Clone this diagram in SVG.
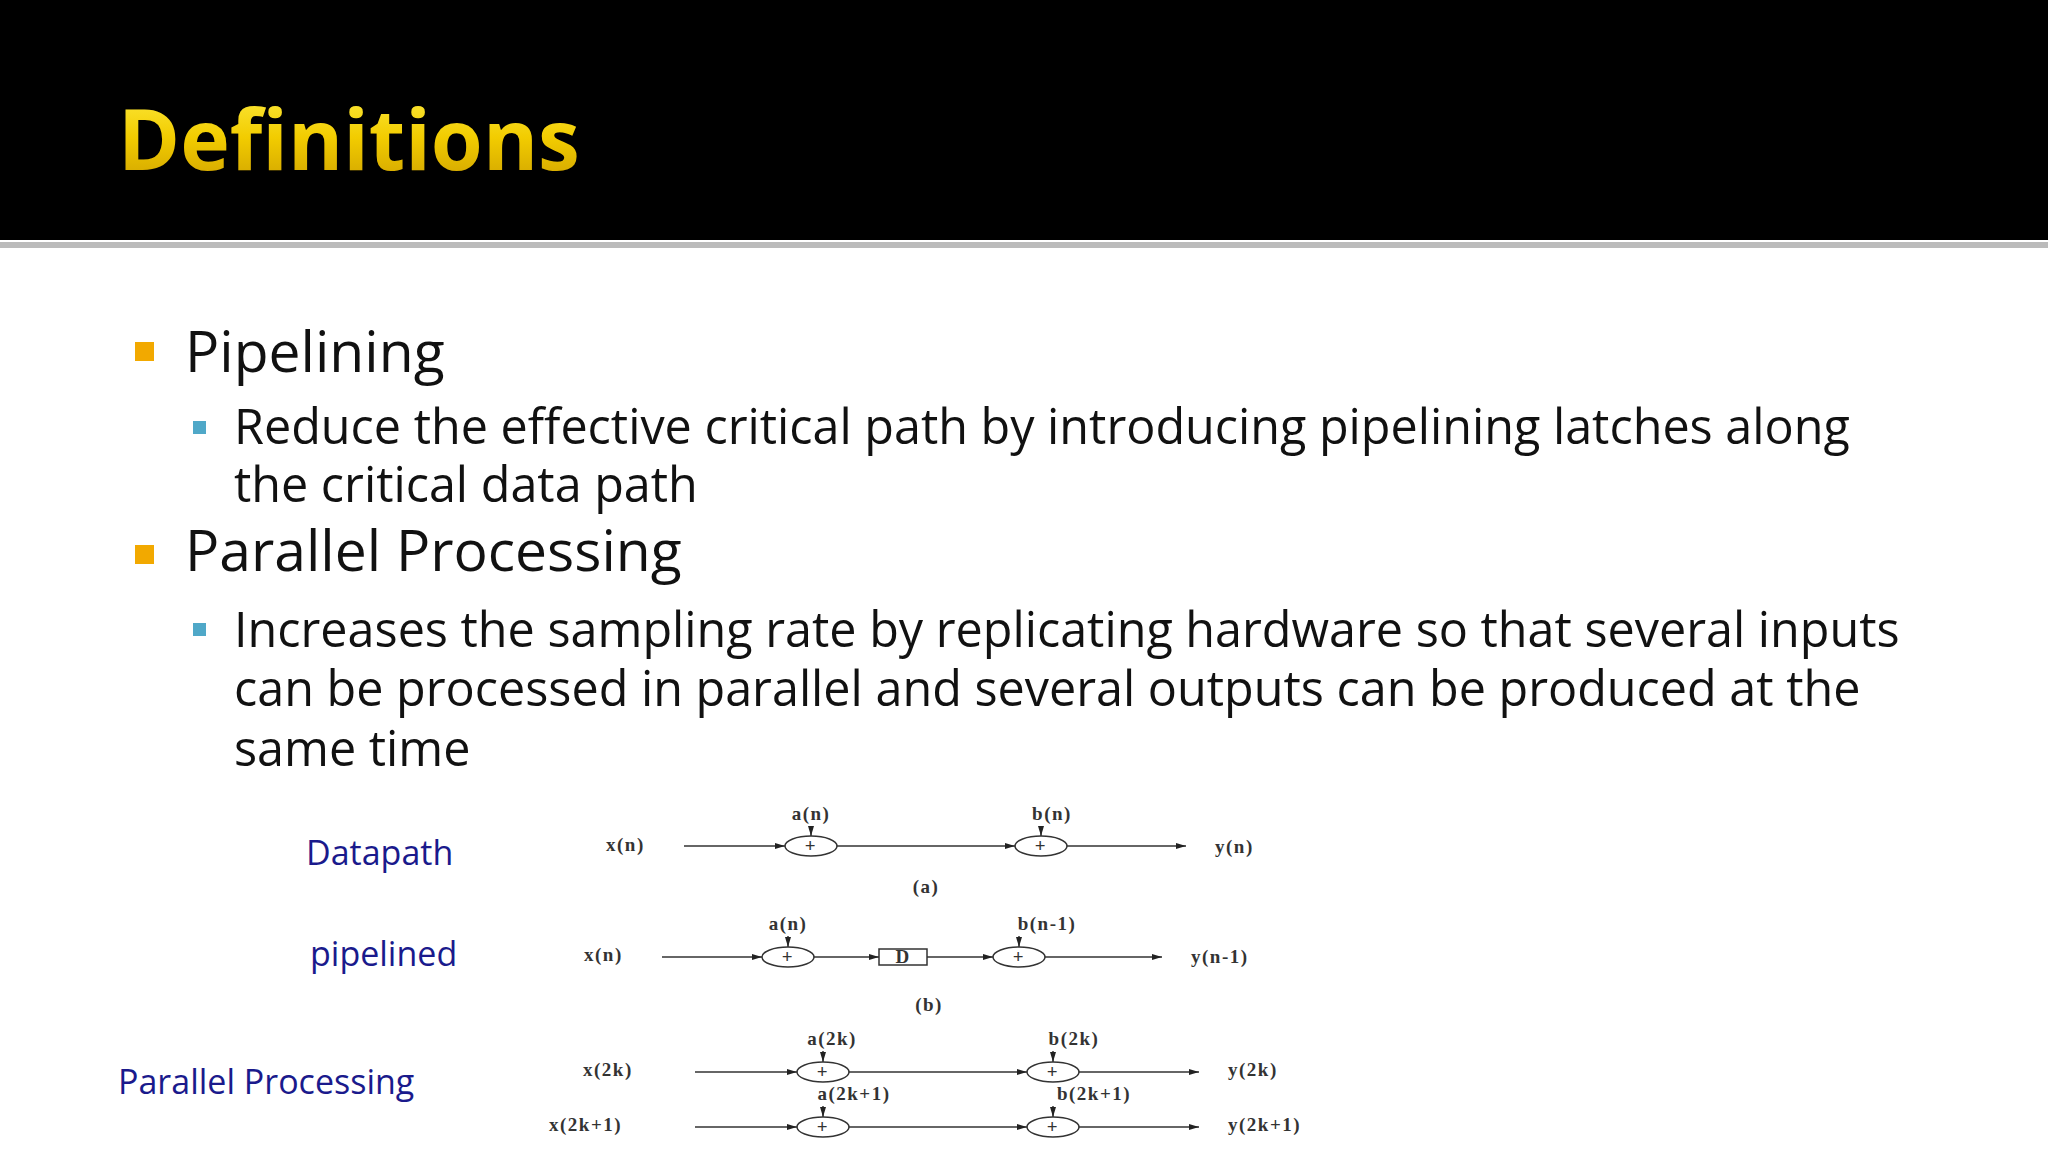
<svg xmlns="http://www.w3.org/2000/svg" width="2048" height="1152" viewBox="0 0 2048 1152">
<defs>
<linearGradient id="tg" x1="0" y1="0" x2="0" y2="1"><stop offset="0" stop-color="#FFF04A"/><stop offset="0.5" stop-color="#F2CC00"/><stop offset="1" stop-color="#C99A00"/></linearGradient>
<marker id="ar" viewBox="0 0 10 6" refX="10" refY="3" markerWidth="10" markerHeight="6" markerUnits="userSpaceOnUse" orient="auto"><path d="M0,0 L10,3 L0,6 z" fill="#222"/></marker>
</defs>
<style>
.h{font-family:"Open Sans","Lato",sans-serif}
.b1{font-family:"Open Sans","Lato",sans-serif;font-size:57px;fill:#111}
.b2{font-family:"Open Sans","Lato",sans-serif;font-size:48.5px;fill:#111}
.lb{font-family:"Open Sans","Lato",sans-serif;font-size:34px;fill:#1a1a8c}
.d{font-family:"Liberation Serif",serif;font-weight:bold;font-size:19px;letter-spacing:1.5px;fill:#333}
.ln{stroke:#333;stroke-width:1.5;fill:none}
.ad{stroke:#333;stroke-width:1.5;fill:#fff}
</style>
<rect width="2048" height="1152" fill="#fff"/>
<rect width="2048" height="240" fill="#000"/>
<rect y="242" width="2048" height="6" fill="#bbb"/>
<text class="h" x="118" y="170" font-size="84" font-weight="bold" fill="url(#tg)">Definitions</text>
<rect x="135" y="342" width="19" height="19" fill="#F2A900"/>
<text class="b1" x="185" y="372">Pipelining</text>
<rect x="193" y="421" width="13" height="13" fill="#4FA8C8"/>
<text class="b2" x="234" y="444">Reduce the effective critical path by introducing pipelining latches along</text>
<text class="b2" x="234" y="502">the critical data path</text>
<rect x="135" y="545" width="19" height="19" fill="#F2A900"/>
<text class="b1" x="185" y="571">Parallel Processing</text>
<rect x="193" y="623" width="13" height="13" fill="#4FA8C8"/>
<text class="b2" x="234" y="647">Increases the sampling rate by replicating hardware so that several inputs</text>
<text class="b2" x="234" y="706">can be processed in parallel and several outputs can be produced at the</text>
<text class="b2" x="234" y="766">same time</text>
<text class="lb" x="306" y="865">Datapath</text>
<text class="lb" x="310" y="966">pipelined</text>
<text class="lb" x="118" y="1094">Parallel Processing</text>
<g id="connectors">
<line class="ln" x1="684" y1="846" x2="785" y2="846" marker-end="url(#ar)"/>
<line class="ln" x1="837" y1="846" x2="1015" y2="846" marker-end="url(#ar)"/>
<line class="ln" x1="1067" y1="846" x2="1186" y2="846" marker-end="url(#ar)"/>
<line class="ln" x1="811" y1="827" x2="811" y2="836" marker-end="url(#ar)"/>
<line class="ln" x1="1041" y1="827" x2="1041" y2="836" marker-end="url(#ar)"/>
<line class="ln" x1="662" y1="957" x2="762" y2="957" marker-end="url(#ar)"/>
<line class="ln" x1="814" y1="957" x2="879" y2="957" marker-end="url(#ar)"/>
<line class="ln" x1="927" y1="957" x2="993" y2="957" marker-end="url(#ar)"/>
<line class="ln" x1="1045" y1="957" x2="1162" y2="957" marker-end="url(#ar)"/>
<line class="ln" x1="788" y1="936" x2="788" y2="947" marker-end="url(#ar)"/>
<line class="ln" x1="1019" y1="936" x2="1019" y2="947" marker-end="url(#ar)"/>
<line class="ln" x1="695" y1="1072" x2="797" y2="1072" marker-end="url(#ar)"/>
<line class="ln" x1="849" y1="1072" x2="1027" y2="1072" marker-end="url(#ar)"/>
<line class="ln" x1="1079" y1="1072" x2="1199" y2="1072" marker-end="url(#ar)"/>
<line class="ln" x1="823" y1="1051" x2="823" y2="1062" marker-end="url(#ar)"/>
<line class="ln" x1="1053" y1="1051" x2="1053" y2="1062" marker-end="url(#ar)"/>
<line class="ln" x1="695" y1="1127" x2="797" y2="1127" marker-end="url(#ar)"/>
<line class="ln" x1="849" y1="1127" x2="1027" y2="1127" marker-end="url(#ar)"/>
<line class="ln" x1="1079" y1="1127" x2="1199" y2="1127" marker-end="url(#ar)"/>
<line class="ln" x1="823" y1="1106" x2="823" y2="1117" marker-end="url(#ar)"/>
<line class="ln" x1="1053" y1="1106" x2="1053" y2="1117" marker-end="url(#ar)"/>
</g>
<g id="rowa">
<ellipse class="ad" cx="811" cy="846" rx="26" ry="10"/><text class="d" x="811" y="852" text-anchor="middle">+</text>
<ellipse class="ad" cx="1041" cy="846" rx="26" ry="10"/><text class="d" x="1041" y="852" text-anchor="middle">+</text>
<text class="d" x="606" y="851">x(n)</text><text class="d" x="1215" y="853">y(n)</text>
<text class="d" x="811" y="820" text-anchor="middle">a(n)</text><text class="d" x="1052" y="820" text-anchor="middle">b(n)</text>
<text class="d" x="926" y="893" text-anchor="middle">(a)</text>
</g>
<g id="rowb">
<ellipse class="ad" cx="788" cy="957" rx="26" ry="10"/><text class="d" x="788" y="963" text-anchor="middle">+</text>
<rect class="ad" x="879" y="949" width="48" height="16"/><text class="d" x="903" y="963" text-anchor="middle">D</text>
<ellipse class="ad" cx="1019" cy="957" rx="26" ry="10"/><text class="d" x="1019" y="963" text-anchor="middle">+</text>
<text class="d" x="584" y="961">x(n)</text><text class="d" x="1191" y="963">y(n-1)</text>
<text class="d" x="788" y="930" text-anchor="middle">a(n)</text><text class="d" x="1047" y="930" text-anchor="middle">b(n-1)</text>
<text class="d" x="929" y="1011" text-anchor="middle">(b)</text>
</g>
<g id="rowc">
<ellipse class="ad" cx="823" cy="1072" rx="26" ry="10"/><text class="d" x="823" y="1078" text-anchor="middle">+</text>
<ellipse class="ad" cx="1053" cy="1072" rx="26" ry="10"/><text class="d" x="1053" y="1078" text-anchor="middle">+</text>
<ellipse class="ad" cx="823" cy="1127" rx="26" ry="10"/><text class="d" x="823" y="1133" text-anchor="middle">+</text>
<ellipse class="ad" cx="1053" cy="1127" rx="26" ry="10"/><text class="d" x="1053" y="1133" text-anchor="middle">+</text>
<text class="d" x="583" y="1076">x(2k)</text><text class="d" x="1228" y="1076">y(2k)</text>
<text class="d" x="549" y="1131">x(2k+1)</text><text class="d" x="1228" y="1131">y(2k+1)</text>
<text class="d" x="832" y="1045" text-anchor="middle">a(2k)</text><text class="d" x="1074" y="1045" text-anchor="middle">b(2k)</text>
<text class="d" x="854" y="1100" text-anchor="middle">a(2k+1)</text><text class="d" x="1094" y="1100" text-anchor="middle">b(2k+1)</text>
</g>
</svg>
